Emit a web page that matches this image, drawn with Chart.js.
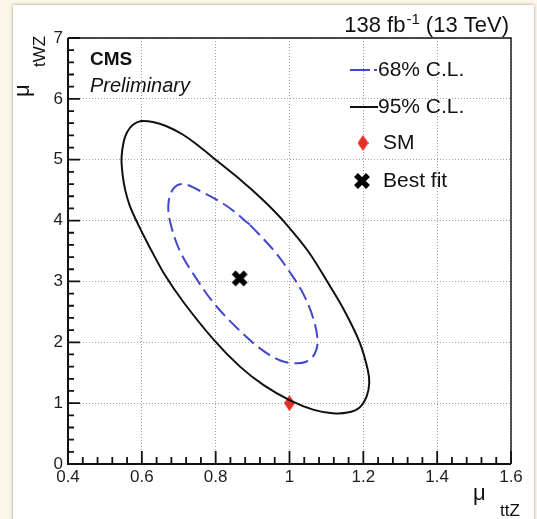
<!DOCTYPE html>
<html>
<head>
<meta charset="utf-8">
<script src="https://cdn.jsdelivr.net/npm/chart.js@4.4.1/dist/chart.umd.min.js"></script>
<style>
  html, body { margin: 0; padding: 0; background: #fbf6e8; overflow: hidden; }
  #panel { position: absolute; left: 13px; top: 5px; width: 521px; height: 540px; background: #fff; box-shadow: 0 0 3px rgba(90, 80, 60, 0.55); }
  #wrap { position: absolute; left: 0; top: 0; width: 537px; height: 519px; }
</style>
</head>
<body>
<div id="panel"></div>
<div id="wrap"><canvas id="c" width="537" height="519"></canvas></div>
<script>
// 95% CL contour (mu_ttZ, mu_tWZ), going round clockwise
const cl95MuTtZ = [0.896, 0.945, 0.987, 1.050, 1.103, 1.147, 1.190, 1.212, 1.216, 1.209, 1.190, 1.157,
  1.117, 1.066, 1.000, 0.929, 0.866, 0.795, 0.714, 0.663, 0.618, 0.585, 0.567, 0.555, 0.548, 0.545,
  0.551, 0.560, 0.575, 0.598, 0.630, 0.667, 0.712, 0.755, 0.800, 0.849, 0.896];
const cl95MuTWZ = [4.52, 4.24, 3.97, 3.50, 2.99, 2.54, 2.00, 1.55, 1.33, 1.11, 0.93, 0.845,
  0.835, 0.89, 1.05, 1.30, 1.60, 2.04, 2.65, 3.10, 3.60, 4.00, 4.25, 4.50, 4.75, 5.03,
  5.30, 5.45, 5.57, 5.635, 5.62, 5.55, 5.41, 5.22, 5.00, 4.76, 4.52];

// 68% CL contour
const cl68MuTtZ = [0.893, 0.956, 1.000, 1.037, 1.064, 1.076, 1.069, 1.045, 1.015, 0.975, 0.920,
  0.857, 0.794, 0.742, 0.703, 0.677, 0.672, 0.685, 0.712, 0.757, 0.830, 0.893];
const cl68MuTWZ = [3.93, 3.52, 3.16, 2.80, 2.40, 2.04, 1.82, 1.68, 1.655, 1.70, 1.90,
  2.24, 2.65, 3.10, 3.50, 3.97, 4.27, 4.52, 4.60, 4.49, 4.24, 3.93];

const smPoint = { x: 1.0, y: 1.0 };
const bestFit = { x: 0.865, y: 3.05 };

const xTickValues = [0.4, 0.6, 0.8, 1.0, 1.2, 1.4, 1.6];
const yTickValues = [0, 1, 2, 3, 4, 5, 6, 7];

const legendLabels = ["68% C.L.", "95% C.L.", "SM", "Best fit"];

const FONT = '"Liberation Sans", Arial, Helvetica, sans-serif';
const RED = "#e5302a";
const BLUE = "#4347c9";

const toPoints = (xs, ys) => xs.map((x, i) => ({ x: x, y: ys[i] }));

// tall red diamond used for the SM marker
const diamond = document.createElement("canvas");
diamond.width = 11;
diamond.height = 16;
(() => {
  const d = diamond.getContext("2d");
  d.fillStyle = RED;
  d.beginPath();
  d.moveTo(5.5, 0);
  d.lineTo(11, 8);
  d.lineTo(5.5, 16);
  d.lineTo(0, 8);
  d.closePath();
  d.fill();
})();

const drawCross = (ctx, cx, cy) => {
  ctx.save();
  ctx.strokeStyle = "#000";
  ctx.lineWidth = 5.5;
  ctx.beginPath();
  ctx.moveTo(cx - 6, cy - 6);
  ctx.lineTo(cx + 6, cy + 6);
  ctx.moveTo(cx + 6, cy - 6);
  ctx.lineTo(cx - 6, cy + 6);
  ctx.stroke();
  ctx.restore();
};

// frame with inward major/minor ticks
const frameTicks = {
  id: "frameTicks",
  afterDatasetsDraw(chart) {
    const { ctx, chartArea: a, scales } = chart;
    const x = scales.x, y = scales.y;
    ctx.save();
    ctx.strokeStyle = "#111";
    ctx.lineWidth = 1.8;
    ctx.beginPath();
    for (let i = 0; i <= 30; i++) {
      const px = x.getPixelForValue(0.4 + i * 0.04);
      const len = i % 5 === 0 ? 13 : 7;
      ctx.moveTo(px, a.bottom);
      ctx.lineTo(px, a.bottom - len);
    }
    for (let i = 0; i <= 35; i++) {
      const py = y.getPixelForValue(i * 0.2);
      const len = i % 5 === 0 ? 12 : 6;
      ctx.moveTo(a.left, py);
      ctx.lineTo(a.left + len, py);
    }
    ctx.stroke();
    ctx.lineWidth = 2;
    ctx.beginPath();
    ctx.moveTo(a.left, a.top);
    ctx.lineTo(a.left, a.bottom);
    ctx.lineTo(a.right, a.bottom);
    ctx.stroke();
    ctx.lineWidth = 1.4;
    ctx.beginPath();
    ctx.moveTo(a.left, a.top);
    ctx.lineTo(a.right, a.top);
    ctx.lineTo(a.right, a.bottom);
    ctx.stroke();
    ctx.restore();
  }
};

// CMS labels, lumi text, axis titles and legend
const annotations = {
  id: "annotations",
  afterDraw(chart) {
    const ctx = chart.ctx;
    ctx.save();
    ctx.fillStyle = "#111";
    ctx.textBaseline = "alphabetic";

    ctx.font = "bold 19px " + FONT;
    ctx.fillText("CMS", 90, 65);
    ctx.font = "italic 20px " + FONT;
    ctx.fillText("Preliminary", 90, 92);

    // 138 fb^-1 (13 TeV), right aligned
    const main1 = "138 fb", sup = "-1", main2 = " (13 TeV)";
    ctx.font = "22px " + FONT;
    const w1 = ctx.measureText(main1).width, w3 = ctx.measureText(main2).width;
    ctx.font = "15px " + FONT;
    const w2 = ctx.measureText(sup).width;
    const tx = 509 - (w1 + w2 + w3 + 1);
    ctx.font = "22px " + FONT;
    ctx.fillText(main1, tx, 32);
    ctx.font = "15px " + FONT;
    ctx.fillText(sup, tx + w1 + 1, 24);
    ctx.font = "22px " + FONT;
    ctx.fillText(main2, tx + w1 + w2 + 1, 32);

    // x title
    ctx.font = "22px " + FONT;
    ctx.fillText("\u03bc", 473, 500);
    ctx.font = "17px " + FONT;
    ctx.fillText("ttZ", 500, 516);

    // y title
    ctx.save();
    ctx.translate(29, 97);
    ctx.rotate(-Math.PI / 2);
    ctx.font = "22px " + FONT;
    ctx.fillText("\u03bc", 0, 0);
    ctx.font = "17px " + FONT;
    ctx.fillText("tWZ", 30, 16);
    ctx.restore();

    // legend
    const rows = [70, 107, 143, 181];
    ctx.lineWidth = 2;
    ctx.strokeStyle = BLUE;
    ctx.setLineDash([20, 4]);
    ctx.beginPath();
    ctx.moveTo(350, rows[0]);
    ctx.lineTo(377, rows[0]);
    ctx.stroke();
    ctx.setLineDash([]);
    ctx.strokeStyle = "#111";
    ctx.beginPath();
    ctx.moveTo(350, rows[1]);
    ctx.lineTo(378, rows[1]);
    ctx.stroke();
    ctx.drawImage(diamond, 363 - 5.5, rows[2] - 8);
    drawCross(ctx, 362, rows[3]);

    ctx.font = "21px " + FONT;
    ctx.textBaseline = "middle";
    ctx.fillText(legendLabels[0], 378, rows[0]);
    ctx.fillText(legendLabels[1], 378, rows[1]);
    ctx.fillText(legendLabels[2], 383, rows[2]);
    ctx.fillText(legendLabels[3], 383, rows[3]);
    ctx.restore();
  }
};

// cross marker for best fit via a small canvas
const crossImg = document.createElement("canvas");
crossImg.width = 19;
crossImg.height = 19;
drawCross(crossImg.getContext("2d"), 9.5, 9.5);

new Chart(document.getElementById("c"), {
  type: "scatter",
  data: {
    datasets: [
      {
        label: legendLabels[1],
        data: toPoints(cl95MuTtZ, cl95MuTWZ),
        showLine: true,
        borderColor: "#111",
        borderWidth: 2,
        tension: 0.35,
        pointRadius: 0,
        fill: false
      },
      {
        label: legendLabels[0],
        data: toPoints(cl68MuTtZ, cl68MuTWZ),
        showLine: true,
        borderColor: BLUE,
        borderWidth: 2,
        borderDash: [14, 6],
        tension: 0.35,
        pointRadius: 0,
        fill: false
      },
      {
        label: legendLabels[2],
        data: [smPoint],
        pointStyle: diamond,
        pointRadius: 8
      },
      {
        label: legendLabels[3],
        data: [bestFit],
        pointStyle: crossImg,
        pointRadius: 8
      }
    ]
  },
  options: {
    responsive: false,
    animation: false,
    events: [],
    layout: { padding: { left: 0, top: 38, right: 26, bottom: 0 } },
    plugins: {
      legend: { display: false },
      tooltip: { enabled: false }
    },
    scales: {
      x: {
        type: "linear",
        min: 0.4,
        max: 1.6,
        afterBuildTicks: (scale) => {
          scale.ticks = xTickValues.map((v) => ({ value: v }));
        },
        afterFit: (scale) => { scale.height = 55; },
        grid: { color: "#a0a0a0", lineWidth: 1, drawTicks: false },
        border: { display: false, dash: [1, 2] },
        ticks: {
          color: "#1e1e1e",
          font: { family: FONT, size: 17 },
          padding: 3,
          maxRotation: 0,
          callback: (v) => String(Math.round(v * 10) / 10)
        }
      },
      y: {
        type: "linear",
        min: 0,
        max: 7,
        afterBuildTicks: (scale) => {
          scale.ticks = yTickValues.map((v) => ({ value: v }));
        },
        afterFit: (scale) => { scale.width = 68; },
        grid: { color: "#a0a0a0", lineWidth: 1, drawTicks: false },
        border: { display: false, dash: [1, 2] },
        ticks: {
          color: "#1e1e1e",
          font: { family: FONT, size: 17 },
          padding: 5,
          callback: (v) => String(v)
        }
      }
    }
  },
  plugins: [frameTicks, annotations]
});
</script>
</body>
</html>
